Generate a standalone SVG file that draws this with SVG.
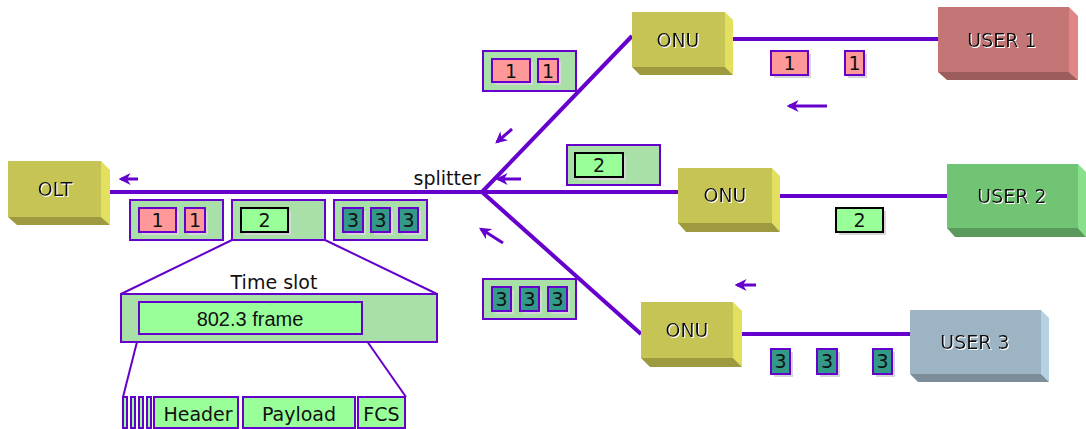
<svg xmlns="http://www.w3.org/2000/svg" width="1086" height="429" viewBox="0 0 1086 429">
<style>
text{font-family:"DejaVu Sans","Liberation Sans",sans-serif;font-size:19px;fill:#111;text-anchor:middle}
.lbl{filter:url(#ws)}
.narrow{font-family:"Liberation Sans",Arial,sans-serif;font-size:20px}
.wire{stroke:#6600cc;stroke-width:4;fill:none}
.arr{stroke:#6600cc;stroke-width:3;fill:none;marker-end:url(#ah)}
.thin{stroke:#6600cc;stroke-width:2;fill:none}
.cont{fill:#a8e0a8;stroke:#6600cc;stroke-width:2}
.p1{fill:#ff9999;stroke:#6600cc;stroke-width:2}
.p2{fill:#99ff99;stroke:#000;stroke-width:2}
.p3{fill:#339988;stroke:#6600cc;stroke-width:2}
.fr{fill:#99ff99;stroke:#6600cc;stroke-width:2}
.sh{fill:#d6d6d6}
.yF{fill:#c6c454}.yR{fill:#e3e060}.yB{fill:#9d9a40}
.rF{fill:#c47676}.rR{fill:#e08686}.rB{fill:#9c5c5c}
.gF{fill:#72c475}.gR{fill:#88e08a}.gB{fill:#5a9a5c}
.bF{fill:#9cb4c4}.bR{fill:#b6d2e2}.bB{fill:#7b8e9a}
</style>
<defs>
<marker id="ah" viewBox="0 0 10 10" refX="8" refY="5" markerWidth="4" markerHeight="4" orient="auto" markerUnits="strokeWidth">
<path d="M0,0 L10,5 L0,10 L3,5 z" fill="#6600cc"/>
</marker>
<filter id="ws" x="-10%" y="-20%" width="120%" height="140%">
<feDropShadow dx="1" dy="1" stdDeviation="0" flood-color="#ffffff" flood-opacity="1"/>
</filter>
</defs>

<g id="connectors">
<line class="wire" x1="110" y1="192" x2="678" y2="192"/>
<line class="wire" x1="482" y1="192" x2="632" y2="36"/>
<line class="wire" x1="482" y1="192" x2="641" y2="334"/>
<line class="wire" x1="733" y1="39" x2="938" y2="39"/>
<line class="wire" x1="780" y1="196" x2="947" y2="196"/>
<line class="wire" x1="742" y1="334" x2="910" y2="334"/>
<line class="arr" x1="138" y1="179" x2="121" y2="179"/>
<line class="arr" x1="512" y1="129" x2="497" y2="142"/>
<line class="arr" x1="521" y1="179" x2="498" y2="179"/>
<line class="arr" x1="503" y1="243" x2="481" y2="229"/>
<line class="arr" x1="827" y1="106" x2="789" y2="106"/>
<line class="arr" x1="756" y1="285" x2="737" y2="285"/>
<line class="thin" x1="232" y1="240" x2="121" y2="294"/>
<line class="thin" x1="325" y1="240" x2="437" y2="294"/>
<line class="thin" x1="139" y1="334" x2="123" y2="397"/>
<line class="thin" x1="362" y1="334" x2="406" y2="397"/>
</g>

<g id="olt">
<polygon class="yR" points="101,161 110,170 110,225 101,217"/>
<polygon class="yB" points="8,217 101,217 110,225 17,225"/>
<rect class="yF" x="8" y="161" width="93" height="56"/>
<text class="lbl" x="55" y="196">OLT</text>
</g>

<g id="onu1">
<polygon class="yR" points="725,12 733,20 733,75 725,67"/>
<polygon class="yB" points="632,67 725,67 733,75 640,75"/>
<rect class="yF" x="632" y="12" width="93" height="55"/>
<text class="lbl" x="678" y="47">ONU</text>
</g>

<g id="onu2">
<polygon class="yR" points="772,168 780,176 780,232 772,223"/>
<polygon class="yB" points="678,223 772,223 780,232 686,232"/>
<rect class="yF" x="678" y="168" width="94" height="55"/>
<text class="lbl" x="725" y="202">ONU</text>
</g>

<g id="onu3">
<polygon class="yR" points="733,302 742,311 742,367 733,358"/>
<polygon class="yB" points="641,358 733,358 742,367 650,367"/>
<rect class="yF" x="641" y="302" width="92" height="56"/>
<text class="lbl" x="687" y="337">ONU</text>
</g>

<g id="user1">
<polygon class="rR" points="1069,7 1078,16 1078,80 1069,72"/>
<polygon class="rB" points="938,72 1069,72 1078,80 947,80"/>
<rect class="rF" x="938" y="7" width="131" height="65"/>
<text class="lbl" x="1002" y="47">USER 1</text>
</g>

<g id="user2">
<polygon class="gR" points="1078,164 1086,172 1086,237 1078,228"/>
<polygon class="gB" points="947,228 1078,228 1086,237 955,237"/>
<rect class="gF" x="947" y="164" width="131" height="64"/>
<text class="lbl" x="1012" y="203">USER 2</text>
</g>

<g id="user3">
<polygon class="bR" points="1041,310 1049,318 1049,382 1041,374"/>
<polygon class="bB" points="910,374 1041,374 1049,382 918,382"/>
<rect class="bF" x="910" y="310" width="131" height="64"/>
<text class="lbl" x="975" y="349">USER 3</text>
</g>

<g id="splitter-label">
<text x="447" y="185">splitter</text>
</g>

<g id="olt-packets">
<rect class="cont" x="130" y="200" width="93" height="40"/>
<rect class="sh" x="142" y="211" width="37" height="24"/>
<rect class="p1" x="139" y="208" width="37" height="24"/>
<text x="157.5" y="227">1</text>
<rect class="sh" x="188" y="211" width="20" height="24"/>
<rect class="p1" x="185" y="208" width="20" height="24"/>
<text x="195" y="227">1</text>
<rect class="cont" x="232" y="200" width="93" height="40"/>
<rect class="sh" x="244" y="211" width="47" height="24"/>
<rect class="p2" x="241" y="208" width="47" height="24"/>
<text x="264.5" y="227">2</text>
<rect class="cont" x="334" y="200" width="93" height="40"/>
<rect class="sh" x="346" y="211" width="20" height="24"/>
<rect class="p3" x="343" y="208" width="20" height="24"/>
<text x="353" y="227">3</text>
<rect class="sh" x="374" y="211" width="19" height="24"/>
<rect class="p3" x="371" y="208" width="19" height="24"/>
<text x="380.5" y="227">3</text>
<rect class="sh" x="402" y="211" width="19" height="24"/>
<rect class="p3" x="399" y="208" width="19" height="24"/>
<text x="408.5" y="227">3</text>
</g>

<g id="time-slot">
<text x="274" y="289">Time slot</text>
<rect class="cont" x="121" y="294" width="316" height="48"/>
<rect class="fr" x="139" y="302" width="223" height="32"/>
<text class="narrow" x="250" y="326">802.3 frame</text>
</g>

<g id="frame-fields">
<rect class="fr" x="123" y="397" width="4" height="31"/>
<rect class="fr" x="131" y="397" width="4" height="31"/>
<rect class="fr" x="139" y="397" width="4" height="31"/>
<rect class="fr" x="147" y="397" width="4" height="31"/>
<rect class="fr" x="154" y="397" width="84" height="31"/>
<text x="198" y="421">Header</text>
<rect class="fr" x="243" y="397" width="112" height="31"/>
<text x="299" y="421">Payload</text>
<rect class="fr" x="358" y="397" width="47" height="31"/>
<text x="381.5" y="421">FCS</text>
</g>

<g id="branch1-packets">
<rect class="cont" x="483" y="51" width="93" height="40"/>
<rect class="sh" x="495" y="62" width="38" height="23"/>
<rect class="p1" x="492" y="59" width="38" height="23"/>
<text x="511" y="78">1</text>
<rect class="sh" x="541" y="62" width="20" height="23"/>
<rect class="p1" x="538" y="59" width="20" height="23"/>
<text x="548" y="78">1</text>
</g>

<g id="branch2-packets">
<rect class="cont" x="567" y="145" width="93" height="40"/>
<rect class="sh" x="578" y="156" width="48" height="24"/>
<rect class="p2" x="575" y="153" width="48" height="24"/>
<text x="599" y="172">2</text>
</g>

<g id="branch3-packets">
<rect class="cont" x="483" y="279" width="93" height="40"/>
<rect class="sh" x="495" y="290" width="19" height="24"/>
<rect class="p3" x="492" y="287" width="19" height="24"/>
<text x="501.5" y="306">3</text>
<rect class="sh" x="523" y="290" width="19" height="24"/>
<rect class="p3" x="520" y="287" width="19" height="24"/>
<text x="529.5" y="306">3</text>
<rect class="sh" x="551" y="290" width="19" height="24"/>
<rect class="p3" x="548" y="287" width="19" height="24"/>
<text x="557.5" y="306">3</text>
</g>

<g id="user1-packets">
<rect class="sh" x="774" y="54" width="37" height="24"/>
<rect class="p1" x="771" y="51" width="37" height="24"/>
<text x="789.5" y="70">1</text>
<rect class="sh" x="848" y="54" width="19" height="24"/>
<rect class="p1" x="845" y="51" width="19" height="24"/>
<text x="854.5" y="70">1</text>
</g>

<g id="user2-packets">
<rect class="sh" x="839" y="211" width="47" height="24"/>
<rect class="p2" x="836" y="208" width="47" height="24"/>
<text x="859.5" y="227">2</text>
</g>

<g id="user3-packets">
<rect class="sh" x="774" y="352" width="19" height="25"/>
<rect class="p3" x="771" y="349" width="19" height="25"/>
<text x="780.5" y="368">3</text>
<rect class="sh" x="820" y="352" width="20" height="25"/>
<rect class="p3" x="817" y="349" width="20" height="25"/>
<text x="827" y="368">3</text>
<rect class="sh" x="876" y="352" width="19" height="25"/>
<rect class="p3" x="873" y="349" width="19" height="25"/>
<text x="882.5" y="368">3</text>
</g>
</svg>
